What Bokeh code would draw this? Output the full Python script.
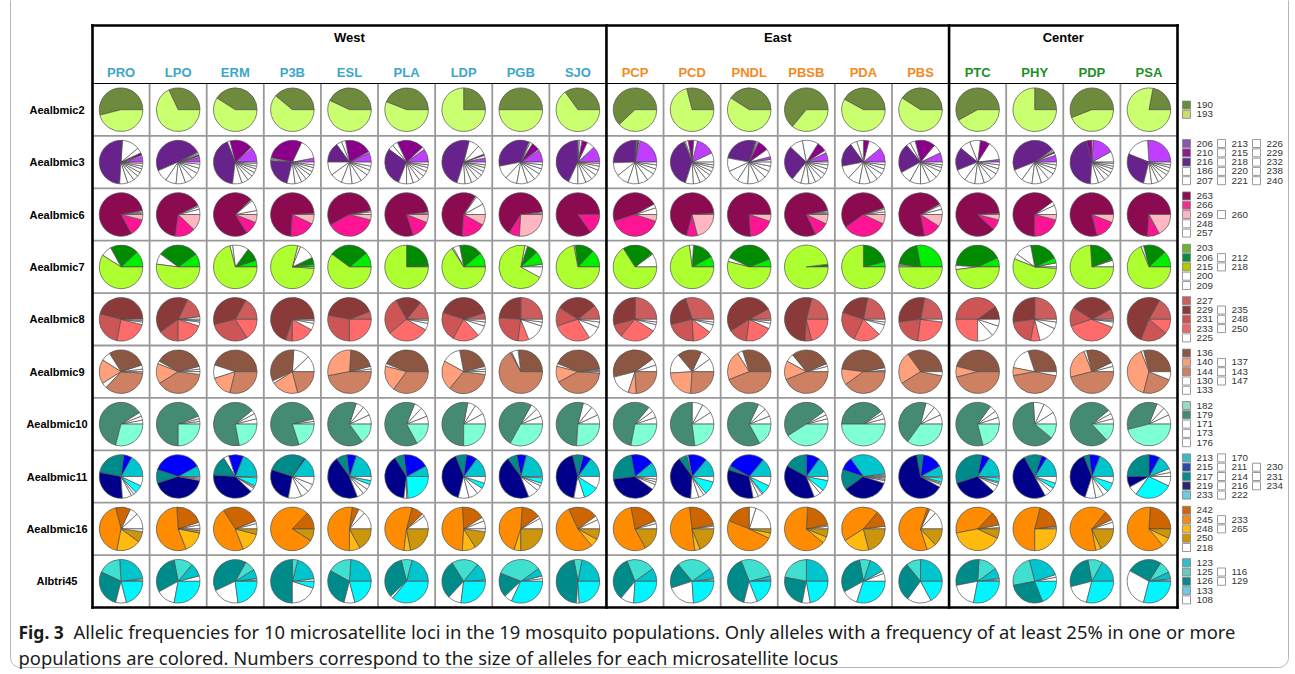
import numpy as np
from bokeh.plotting import figure
from bokeh.models import ColumnDataSource, Range1d
from bokeh.core.properties import value
from bokeh.embed import file_html
from bokeh.resources import INLINE

# ---------------- data ----------------
populations = ["PRO", "LPO", "ERM", "P3B", "ESL", "PLA", "LDP", "PGB", "SJO",
               "PCP", "PCD", "PNDL", "PBSB", "PDA", "PBS",
               "PTC", "PHY", "PDP", "PSA"]
population_region = ["West"] * 9 + ["East"] * 6 + ["Center"] * 4
region_names = ["West", "East", "Center"]
region_colors = {"West": "#3BA6CA", "East": "#F5891E", "Center": "#1E8F26"}

loci = ["Aealbmic2", "Aealbmic3", "Aealbmic6", "Aealbmic7", "Aealbmic8",
        "Aealbmic9", "Aealbmic10", "Aealbmic11", "Aealbmic16", "Albtri45"]

# --- Aealbmic2
alleles_aealbmic2 = [190, 193]
freq_aealbmic2 = [
    [.54, .46], [.32, .68], [.41, .59], [.39, .61], [.43, .57], [.44, .56],
    [.25, .75], [.50, .50], [.35, .65], [.62, .38], [.29, .71], [.41, .59],
    [.64, .36], [.42, .58], [.41, .59], [.58, .42], [.25, .75], [.56, .44],
    [.22, .78]]
pie_colors_aealbmic2 = {190: "#6E8B3D", 193: "#CAFF70"}
key_colors_aealbmic2 = {190: "#6C8A3C", 193: "#CADD6E"}
legend_aealbmic2 = [["190", "193"]]

# --- Aealbmic3
alleles_aealbmic3 = [186, 206, 207, 210, 213, 215, 216, 218, 220, 221, 226, 229, 232, 238, 240]
freq_aealbmic3 = [
    [0, .04, .01, .02, .04, .13, .50, .06, .05, .04, .03, .03, .02, .02, .01],
    [0, .035, .01, .01, .01, .01, .49, .09, .08, .07, .06, .05, .04, .03, .015],
    [0, .11, .01, .17, .02, 0, .42, .07, .05, .04, .03, .03, .02, .02, .01],
    [0, .03, .15, .29, .01, .01, .22, .06, .05, .04, .04, .03, .03, .02, .02],
    [0, .07, .01, .20, .03, .04, .15, .10, .09, .08, .07, .06, .04, .03, .03],
    [0, .10, .02, .20, .04, .04, .29, .06, .05, .05, .04, .04, .03, .02, .02],
    [0, .03, .02, .01, .07, .08, .49, .06, .05, .05, .04, .03, .03, .02, .02],
    [0, .09, .01, .06, .02, .01, .34, .10, .09, .08, .06, .05, .04, .03, .02],
    [0, .12, .06, .04, .02, .01, .43, .07, .06, .05, .04, .04, .03, .02, .01],
    [0, .21, .01, .01, .005, .005, .26, .10, .09, .08, .07, .06, .04, .03, .02],
    [.07, .14, .03, .04, .02, .01, .39, .06, .05, .05, .04, .03, .03, .02, .02],
    [.02, .02, .06, .08, .01, .01, .27, .10, .09, .08, .08, .06, .05, .04, .03],
    [.01, .06, .02, .07, .12, .10, .26, .07, .06, .05, .05, .04, .04, .03, .02],
    [0, .11, .10, .04, .05, .05, .18, .10, .09, .08, .06, .05, .04, .03, .02],
    [0, .07, .07, .15, .04, .03, .22, .09, .08, .07, .06, .05, .03, .02, .02],
    [0, .02, .14, .07, .08, .08, .17, .09, .08, .07, .06, .05, .04, .03, .02],
    [0, .05, .02, .01, .01, .01, .46, .09, .08, .07, .06, .05, .04, .03, .02],
    [.08, .16, .01, .04, 0, 0, .45, .06, .05, .04, .03, .03, .02, .02, .01],
    [0, .26, .18, 0, 0, 0, .27, .06, .05, .04, .04, .03, .03, .02, .02]]
pie_colors_aealbmic3 = {206: "#BF3EFF", 210: "#8B008B", 216: "#68228B"}
key_colors_aealbmic3 = {206: "#8A55B0", 210: "#8C1E8C", 216: "#5E2B8A"}
legend_aealbmic3 = [["206", "210", "216", "186", "207"],
                    ["213", "215", "218", "220", "221"],
                    ["226", "229", "232", "238", "240"]]

# --- Aealbmic6
alleles_aealbmic6 = [248, 257, 260, 263, 266, 269]
freq_aealbmic6 = [
    [.01, .01, .01, .80, .13, .04], [.04, .02, .01, .66, .15, .12],
    [.03, .08, .01, .72, .10, .06], [.01, 0, 0, .73, .19, .07],
    [.02, .01, 0, .55, .38, .04], [.01, .01, 0, .78, .14, .06],
    [.08, .07, .01, .58, .18, .08], [.01, .01, 0, .64, .08, .26],
    [0, 0, 0, .85, .15, 0], [.05, .03, 0, .47, .40, .05],
    [0, 0, .01, .70, .08, .21], [0, 0, 0, .76, .19, .05],
    [.01, .01, .01, .79, .11, .07], [.02, .02, .01, .55, .33, .07],
    [.04, .03, .01, .70, .13, .09], [.01, 0, 0, .87, .08, .04],
    [.07, .03, 0, .65, .21, .04], [0, 0, 0, .79, .15, .06],
    [0, 0, 0, .74, .09, .17]]
pie_colors_aealbmic6 = {263: "#8B0A50", 266: "#FF1493", 269: "#FFB6C1"}
key_colors_aealbmic6 = {263: "#8B1050", 266: "#E8338E", 269: "#F6B6C6"}
legend_aealbmic6 = [["263", "266", "269", "248", "257"], ["", "", "260", "", ""]]

# --- Aealbmic7
alleles_aealbmic7 = [200, 203, 206, 209, 212, 215, 218]
freq_aealbmic7 = [
    [0, .12, .21, .08, 0, .59, 0], [0, .10, .30, .08, 0, .52, 0],
    [0, .05, .10, .12, .02, .71, 0], [0, .02, .05, .12, .02, .78, .01],
    [0, .11, .29, 0, 0, .60, 0], [0, .01, .24, 0, 0, .75, 0],
    [0, .11, .17, .05, .01, .66, 0], [.02, .10, .08, .02, 0, .70, .08],
    [0, .13, .14, .01, 0, .72, 0], [.10, .01, .23, 0, 0, .66, 0],
    [0, .08, .16, .03, 0, .73, 0], [0, .06, .37, .03, 0, .54, 0],
    [0, .005, .015, 0, 0, .98, 0], [0, .04, .21, 0, 0, .75, 0],
    [0, .28, .20, .01, .01, .50, 0], [0, .07, .42, .03, 0, .48, 0],
    [.03, .04, .21, .12, .04, .55, .01], [.05, .01, .20, 0, 0, .74, 0],
    [0, .12, .17, .02, 0, .69, 0]]
pie_colors_aealbmic7 = {203: "#00EE00", 206: "#008B00", 215: "#ADFF2F"}
key_colors_aealbmic7 = {203: "#6CB52D", 206: "#0A8A3C", 215: "#B8C60A"}
legend_aealbmic7 = [["203", "206", "215", "200", "209"], ["", "212", "218", "", ""]]

# --- Aealbmic8
alleles_aealbmic8 = [225, 227, 229, 231, 233, 235, 248, 250]
freq_aealbmic8 = [
    [0, 0, .46, .26, .24, .02, .01, .01], [.02, .16, .42, .15, .20, .03, .01, .01],
    [0, .17, .37, .30, .16, 0, 0, 0], [0, 0, .70, .05, .17, .05, .02, .01],
    [0, .06, .41, .28, .25, 0, 0, 0], [0, .14, .19, .28, .31, .05, .02, .01],
    [0, .05, .40, .22, .20, .08, .03, .02], [0, .25, .24, .24, .08, .14, .03, .02],
    [0, .11, .30, .14, .29, .10, .04, .02], [0, .25, .29, .10, .27, .05, .02, .02],
    [0, .30, .24, .22, .14, .06, .02, .02], [0, .08, .51, .14, .20, .04, .02, .01],
    [0, .21, .53, .05, .21, 0, 0, 0], [0, .22, .23, .23, .20, .08, .02, .02],
    [0, .22, .30, .21, .25, .02, 0, 0], [0, 0, .10, .40, .25, .12, .08, .05],
    [0, .25, .27, .20, .07, .14, .05, .02], [0, .08, .33, .14, .39, .04, .01, .01],
    [0, .17, .52, .20, .11, 0, 0, 0]]
pie_colors_aealbmic8 = {227: "#CD5C5C", 229: "#8B3A3A", 231: "#CD5555", 233: "#FF6A6A"}
key_colors_aealbmic8 = {227: "#CD5C5C", 229: "#8A3A3A", 231: "#CD5050", 233: "#EE6666"}
legend_aealbmic8 = [["227", "229", "231", "233", "225"], ["", "235", "248", "250", ""]]

# --- Aealbmic9
alleles_aealbmic9 = [130, 133, 136, 137, 140, 143, 144, 147]
freq_aealbmic9 = [
    [.02, .03, .29, .07, .18, .04, .36, .01], [.02, .02, .38, .02, .15, 0, .39, .02],
    [0, 0, .45, .10, .16, 0, .29, 0], [.12, .12, .33, .02, .20, 0, .21, 0],
    [.02, .02, .20, 0, .29, 0, .47, 0], [0, 0, .44, .02, .19, 0, .35, 0],
    [.02, .02, .24, .14, .22, 0, .34, .02], [0, 0, .27, .05, .01, 0, .67, 0],
    [.01, .01, .42, .02, .12, 0, .41, .01], [.05, .05, .44, .16, .06, 0, .24, 0],
    [.10, .08, .18, .15, .23, 0, .26, 0], [0, 0, .30, .04, .22, 0, .44, 0],
    [.04, .02, .30, .06, .14, 0, .44, 0], [.01, .02, .45, 0, .12, 0, .40, 0],
    [0, 0, .35, 0, .24, 0, .38, .03], [0, 0, .46, 0, .08, 0, .46, 0],
    [0, 0, .30, .17, .06, 0, .44, .03], [.04, .03, .22, .02, .23, 0, .46, 0],
    [0, 0, .29, .02, .40, 0, .23, .06]]
pie_colors_aealbmic9 = {136: "#8B5742", 140: "#FFA07A", 144: "#CD8162"}
key_colors_aealbmic9 = {136: "#8B5742", 140: "#F5A07C", 144: "#CD8062"}
legend_aealbmic9 = [["136", "140", "144", "130", "133"], ["", "137", "143", "147", ""]]

# --- Aealbmic10
alleles_aealbmic10 = [171, 173, 176, 179, 182]
freq_aealbmic10 = [
    [.03, .03, .03, .62, .29], [.02, .02, .02, .69, .25], [.04, .04, .03, .67, .22],
    [.02, .02, 0, .76, .20], [.07, .07, .06, .65, .15], [.06, .07, .06, .64, .17],
    [.08, .08, .06, .53, .25], [.06, .06, .05, .50, .33], [.07, .07, .07, .53, .26],
    [.05, .05, .04, .58, .28], [.09, .08, .08, .52, .23], [.06, .06, .06, .65, .17],
    [.04, .03, .03, .49, .41], [.04, .04, .02, .40, .50], [.07, .07, .07, .44, .35],
    [.05, .05, .05, .64, .21], [.09, .09, .08, .63, .11], [.04, .04, .03, .76, .13],
    [.07, .06, .06, .35, .46]]
pie_colors_aealbmic10 = {179: "#458B74", 182: "#7FFFD4"}
key_colors_aealbmic10 = {179: "#458B74", 182: "#9AD8C4"}
legend_aealbmic10 = [["182", "179", "171", "173", "176"]]

# --- Aealbmic11
alleles_aealbmic11 = [170, 211, 213, 214, 215, 216, 217, 219, 222, 230, 231, 233, 234]
freq_aealbmic11 = [
    [0, 0, .17, 0, .06, 0, .24, .29, .07, .02, .02, .06, .07],
    [0, 0, .08, 0, .37, 0, .10, .42, .01, .01, 0, 0, .01],
    [0, 0, .19, 0, .11, .04, .15, .39, .03, .01, .01, .06, .01],
    [0, 0, .15, 0, .01, 0, .29, .27, .10, .06, .06, 0, .06],
    [0, 0, .20, 0, .07, 0, .08, .46, .05, .04, .04, .03, .03],
    [0, 0, .08, 0, .19, 0, .07, .39, .02, .01, 0, .24, 0],
    [0, 0, .15, 0, .08, 0, .08, .40, .08, .07, .05, .04, .05],
    [0, 0, .21, 0, .07, 0, .07, .46, .08, .04, .02, .04, .01],
    [0, 0, .15, 0, .06, 0, .08, .43, .08, 0, 0, .11, .09],
    [0, 0, .11, 0, .17, 0, .24, .38, .04, .02, .02, 0, .02],
    [0, 0, .14, 0, .14, .01, .06, .39, .06, .04, .02, .10, .04],
    [0, 0, .14, 0, .28, 0, .03, .33, .04, .03, .01, .07, .07],
    [0, 0, .15, 0, .10, 0, .17, .39, .05, .03, 0, .08, .03],
    [.01, .01, .33, 0, .10, 0, .15, .35, .02, .01, .01, 0, .01],
    [0, 0, .08, 0, .15, 0, .05, .64, .02, .01, .01, .03, .01],
    [0, 0, .16, 0, .06, 0, .33, .33, .05, .02, .01, .03, .01],
    [0, 0, .16, 0, .04, 0, .13, .50, .05, .03, 0, .04, .05],
    [0, 0, .19, 0, .08, 0, .04, .39, .08, .06, .04, .07, .05],
    [.03, .03, .11, 0, .08, 0, .25, .08, .07, 0, 0, .28, .07]]
pie_colors_aealbmic11 = {213: "#00C5CD", 215: "#0000FF", 217: "#008B8B", 219: "#00008B", 233: "#00FFFF"}
key_colors_aealbmic11 = {213: "#3DB9C9", 215: "#2A4CA8", 217: "#0A8B8B", 219: "#252A70", 233: "#6CCBE0"}
legend_aealbmic11 = [["213", "215", "217", "219", "233"],
                     ["170", "211", "214", "216", "222"],
                     ["", "230", "231", "234", ""]]

# --- Aealbmic16
alleles_aealbmic16 = [218, 233, 242, 245, 248, 250, 265]
freq_aealbmic16 = [
    [.12, .06, .11, .43, .18, .08, .02], [.03, .02, .21, .55, .16, .02, .01],
    [.04, .02, .28, .47, .15, .04, 0], [0, 0, .13, .78, 0, .09, 0],
    [.13, .05, .05, .52, .08, .17, 0], [.10, .02, .09, .52, .05, .22, 0],
    [.06, .03, .17, .48, .10, .14, .02], [.08, .02, .14, .46, .05, .25, 0],
    [.07, .03, .22, .54, .06, .08, 0], [.04, .02, .22, .55, 0, .17, 0],
    [.02, .01, .24, .50, .04, .19, 0], [.20, .05, .19, .49, .04, .03, 0],
    [.02, .01, .21, .65, .05, .06, 0], [.02, 0, .12, .45, .20, .21, 0],
    [.13, .05, .02, .60, .07, .13, 0], [.01, .02, .10, .40, .40, .07, 0],
    [.01, .01, .19, .54, .25, 0, 0], [.05, .02, .07, .64, .04, .18, 0],
    [0, 0, .24, .62, .07, .07, 0]]
pie_colors_aealbmic16 = {242: "#CD6600", 245: "#FF8C00", 248: "#FFB90F", 250: "#CD950C"}
key_colors_aealbmic16 = {242: "#CD6610", 245: "#F08A20", 248: "#F8B920", 250: "#CC940C"}
legend_aealbmic16 = [["242", "245", "248", "250", "218"], ["", "233", "265", "", ""]]

# --- Albtri45
alleles_albtri45 = [108, 116, 123, 125, 126, 129, 133]
freq_albtri45 = [
    [.01, .01, .24, .17, .28, .08, .21], [.04, 0, .10, .14, .30, .14, .28],
    [.01, .01, .07, .08, .40, .20, .23], [0, .02, .19, .04, .50, .20, .05],
    [0, 0, .24, .18, .29, .08, .21], [0, 0, .21, .08, .33, .02, .36],
    [0, .01, .13, .20, .29, .10, .27], [.02, .02, .06, .34, .18, .06, .32],
    [0, 0, .22, .06, .46, .02, .24], [0, 0, .10, .21, .33, .10, .26],
    [.01, .01, .08, .26, .19, .21, .24], [.01, 0, .03, .27, .40, .10, .19],
    [0, 0, .25, .22, .25, .06, .22], [.06, .02, .12, .08, .30, .12, .30],
    [0, 0, .25, .11, .29, .18, .17], [.01, .01, .08, .14, .29, .19, .28],
    [.03, .02, .24, .24, .28, 0, .19], [0, 0, .17, .11, .26, .17, .29],
    [.01, .01, .05, .09, .26, .29, .29]]
pie_colors_albtri45 = {123: "#00C5CD", 125: "#40E0D0", 126: "#008B8B", 133: "#00F5FF"}
key_colors_albtri45 = {123: "#35BCCB", 125: "#6CC9C0", 126: "#0A878A", 133: "#6EC8E2"}
legend_albtri45 = [["123", "125", "126", "133", "108"], ["", "116", "129", "", ""]]

caption_bold = "Fig. 3"
caption_line1 = ("Allelic frequencies for 10 microsatellite loci in the 19 mosquito populations. "
                 "Only alleles with a frequency of at least 25% in one or more")
caption_line2 = ("populations are colored. Numbers correspond to the size of alleles for each "
                 "microsatellite locus")

LOCI = [
    (alleles_aealbmic2, freq_aealbmic2, pie_colors_aealbmic2, key_colors_aealbmic2, legend_aealbmic2),
    (alleles_aealbmic3, freq_aealbmic3, pie_colors_aealbmic3, key_colors_aealbmic3, legend_aealbmic3),
    (alleles_aealbmic6, freq_aealbmic6, pie_colors_aealbmic6, key_colors_aealbmic6, legend_aealbmic6),
    (alleles_aealbmic7, freq_aealbmic7, pie_colors_aealbmic7, key_colors_aealbmic7, legend_aealbmic7),
    (alleles_aealbmic8, freq_aealbmic8, pie_colors_aealbmic8, key_colors_aealbmic8, legend_aealbmic8),
    (alleles_aealbmic9, freq_aealbmic9, pie_colors_aealbmic9, key_colors_aealbmic9, legend_aealbmic9),
    (alleles_aealbmic10, freq_aealbmic10, pie_colors_aealbmic10, key_colors_aealbmic10, legend_aealbmic10),
    (alleles_aealbmic11, freq_aealbmic11, pie_colors_aealbmic11, key_colors_aealbmic11, legend_aealbmic11),
    (alleles_aealbmic16, freq_aealbmic16, pie_colors_aealbmic16, key_colors_aealbmic16, legend_aealbmic16),
    (alleles_albtri45, freq_albtri45, pie_colors_albtri45, key_colors_albtri45, legend_albtri45),
]

# ---------------- layout helpers (page pixels -> data units) ----------------
W, H = 1290, 672
OX, OY = 0, 0             # where the figure lands on the photographed page
GX0, GY0 = 92.0, 83.0     # grid top-left on the page
CW, RH = 57.105, 52.4     # column width / row height in px
def dx(px):
    return (px - GX0) / CW
def dy(py):
    return (GY0 - py) / RH

ncol, nrow = len(populations), len(loci)
frame_top = dy(25)

p = figure(width=W, height=H, x_range=Range1d(dx(OX), dx(OX + W)),
           y_range=Range1d(dy(OY + H), dy(OY)), output_backend="svg",
           toolbar_location=None, x_axis_type=None, y_axis_type=None,
           min_border=0, outline_line_color=None)
p.grid.visible = False
p.background_fill_color = "white"
p.border_fill_color = "white"

# caption box (rounded, open at top)
rad = 10
th = np.linspace(0, np.pi / 2, 12)
bx = ([10] + list(10 + rad - rad * np.cos(th)) + list(1288 - rad + rad * np.sin(th)) + [1288])
by = ([-5] + list(667 - rad + rad * np.sin(th)) + list(667 - rad * (1 - np.cos(th))) + [-5])
p.line([dx(v) for v in bx], [dy(v) for v in by], line_color="#b5b5b5", line_width=1)

# cell grid
gx0, gy0, gx1, gy1 = [], [], [], []
for c in range(1, ncol):
    if c in (9, 15):
        continue
    gx0.append(c); gx1.append(c); gy0.append(0); gy1.append(-nrow)
for r in range(1, nrow):
    gx0.append(0); gx1.append(ncol); gy0.append(-r); gy1.append(-r)
p.segment(gx0, gy0, gx1, gy1, line_color="#999999", line_width=1.8)
p.segment([0], [0], [ncol], [0], line_color="black", line_width=1.2)

# pies
xs, ys, st, en, fc = [], [], [], [], []
for r, (alleles, freqs, pcol, kcol, leg) in enumerate(LOCI):
    for c, fr in enumerate(freqs):
        tot = float(sum(fr))
        acc = 0.0
        for a, f in zip(alleles, fr):
            if f <= 0:
                continue
            s = 2 * np.pi * acc / tot
            acc += f
            e = 2 * np.pi * acc / tot
            xs.append(c + 0.5); ys.append(-(r + 0.5))
            st.append(s); en.append(e)
            fc.append(pcol.get(a, "white"))
wsrc = ColumnDataSource(dict(x=xs, y=ys, s=st, e=en, c=fc))
p.wedge(x="x", y="y", radius=21.8, radius_units="screen", start_angle="s",
        end_angle="e", direction="anticlock", fill_color="c",
        line_color="#505050", line_width=0.7, source=wsrc)

# outer frame and region separators
fx0 = [0, 0, 0, ncol, 9, 15]
fx1 = [ncol, ncol, 0, ncol, 9, 15]
fy0 = [frame_top, -nrow, -nrow, -nrow, -nrow, -nrow]
fy1 = [frame_top, -nrow, frame_top, frame_top, frame_top, frame_top]
p.segment(fx0, fy0, fx1, fy1, line_color="black", line_width=2.6, line_cap="square")

# region headers
reg_x = []
for rg in region_names:
    idx = [i for i, v in enumerate(population_region) if v == rg]
    reg_x.append((min(idx) + max(idx) + 1) / 2)
p.text(reg_x, [dy(37)] * 3, text=region_names, text_align="center",
       text_baseline="middle", text_font=value("Liberation Sans"),
       text_font_style="bold", text_font_size="13px", text_color="black")

# population labels
p.text([i + 0.5 for i in range(ncol)], [dy(72)] * ncol, text=populations,
       text_align="center", text_baseline="middle",
       text_font=value("Liberation Sans"), text_font_style="bold",
       text_font_size="13px", text_color=[region_colors[g] for g in population_region])

# locus labels
p.text([dx(56.5)] * nrow, [-(r + 0.5) for r in range(nrow)], text=loci,
       text_align="center", text_baseline="middle",
       text_font=value("Liberation Sans"), text_font_style="bold",
       text_font_size="11px", text_color="black")

# keys
sw_x = [dx(1186), dx(1221), dx(1256)]
tx_x = [dx(1196), dx(1231), dx(1266)]
step = 9.3 / RH
kx, ky, kc, lx, ly, lt = [], [], [], [], [], []
for r, (alleles, freqs, pcol, kcol, leg) in enumerate(LOCI):
    n = len(leg[0])
    for ci, col in enumerate(leg):
        for k, lab in enumerate(col):
            if lab == "":
                continue
            yy = -(r + 0.5) - (k - (n - 1) / 2) * step
            kx.append(sw_x[ci]); ky.append(yy)
            kc.append(kcol.get(int(lab), "white") if ci == 0 else "white")
            lx.append(tx_x[ci]); ly.append(yy); lt.append(lab)
p.scatter(kx, ky, marker="square", size=8, fill_color=kc, line_color="#808080",
          line_width=0.8)
p.text(lx, ly, text=lt, text_align="left", text_baseline="middle",
       text_font=value("Liberation Sans"), text_font_size="9.8px", text_color="#333333")

# caption
p.text([dx(18)], [dy(631)], text=[caption_bold], text_align="left", text_baseline="middle",
       text_font=value("Noto Sans"), text_font_style="bold", text_font_size="17.5px",
       text_color="#1a1a1a")
p.text([dx(73)], [dy(631)], text=[caption_line1], text_align="left", text_baseline="middle",
       text_font=value("Noto Sans"), text_font_size="18.4px", text_color="#1a1a1a")
p.text([dx(18)], [dy(657)], text=[caption_line2], text_align="left", text_baseline="middle",
       text_font=value("Noto Sans"), text_font_size="18.4px", text_color="#1a1a1a")

open("out.html", "w").write(file_html(p, INLINE))
